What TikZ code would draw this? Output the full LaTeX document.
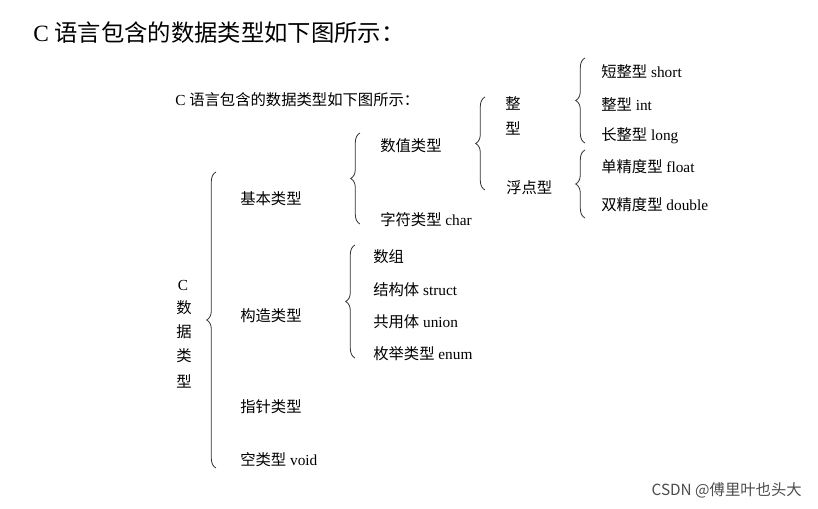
\documentclass[tikz,border=0pt]{standalone}
\usepackage{fontspec}
\setmainfont{Liberation Serif}
\newfontfamily\cjk{Noto Sans CJK SC}
\usetikzlibrary{decorations.pathreplacing}
\begin{document}
\begin{tikzpicture}[x=0.75pt,y=-0.75pt,
  lbl/.style={font=\fontsize{11.5}{13}\selectfont,inner sep=0pt,anchor=west},
  br/.style={decorate,decoration={brace,amplitude=7pt},line width=0.6pt,black!80}]
\useasboundingbox[fill=white] (0,0) rectangle (818,508);
\node[anchor=west,inner sep=0pt,font=\fontsize{17.5}{20}\selectfont] (title) at (33,33) {C {\cjk 语言包含的数据类型如下图所示：}};
\node[lbl] (sub) at (175,100) {C {\cjk 语言包含的数据类型如下图所示：}};
\node[lbl,anchor=center] (c0) at (183,285) {C};
\node[lbl,anchor=center] (c1) at (184,308) {\cjk 数};
\node[lbl,anchor=center] (c2) at (184,332) {\cjk 据};
\node[lbl,anchor=center] (c3) at (184,356) {\cjk 类};
\node[lbl,anchor=center] (c4) at (184,381) {\cjk 型};
\node[lbl] (jb) at (240,199) {\cjk 基本类型};
\node[lbl] (gz) at (240,316) {\cjk 构造类型};
\node[lbl] (zz) at (240,407) {\cjk 指针类型};
\node[lbl] (kl) at (240,460) {{\cjk 空类型} void};
\node[lbl] (sz) at (380,146) {\cjk 数值类型};
\node[lbl] (zf) at (380,220) {{\cjk 字符类型} char};
\node[lbl,anchor=center] (z1) at (513,103) {\cjk 整};
\node[lbl,anchor=center] (z2) at (513,128) {\cjk 型};
\node[lbl] (fd) at (506,188) {\cjk 浮点型};
\node[lbl] (dz) at (601,72) {{\cjk 短整型} short};
\node[lbl] (zx) at (601,104) {{\cjk 整型} int};
\node[lbl] (cz) at (601,136) {{\cjk 长整型} long};
\node[lbl] (dj) at (601,167) {{\cjk 单精度型} float};
\node[lbl] (sj) at (601,205) {{\cjk 双精度型} double};
\node[lbl] (shz) at (373,257) {\cjk 数组};
\node[lbl] (jg) at (373,290) {{\cjk 结构体} struct};
\node[lbl] (gy) at (373,322) {{\cjk 共用体} union};
\node[lbl] (mj) at (373,354) {{\cjk 枚举类型} enum};
\node[lbl,anchor=east,text=black!70,font=\cjk\fontsize{11.5}{13}\selectfont] (csdn) at (802,490) {CSDN @傅里叶也头大};
\draw[br] (216,468) -- (216,172);
\draw[br] (360,224) -- (360,133);
\draw[br] (485,190) -- (485,97);
\draw[br] (585,143) -- (585,58);
\draw[br] (585,218) -- (585,150);
\draw[br] (355,358) -- (355,245);
\end{tikzpicture}
\end{document}
